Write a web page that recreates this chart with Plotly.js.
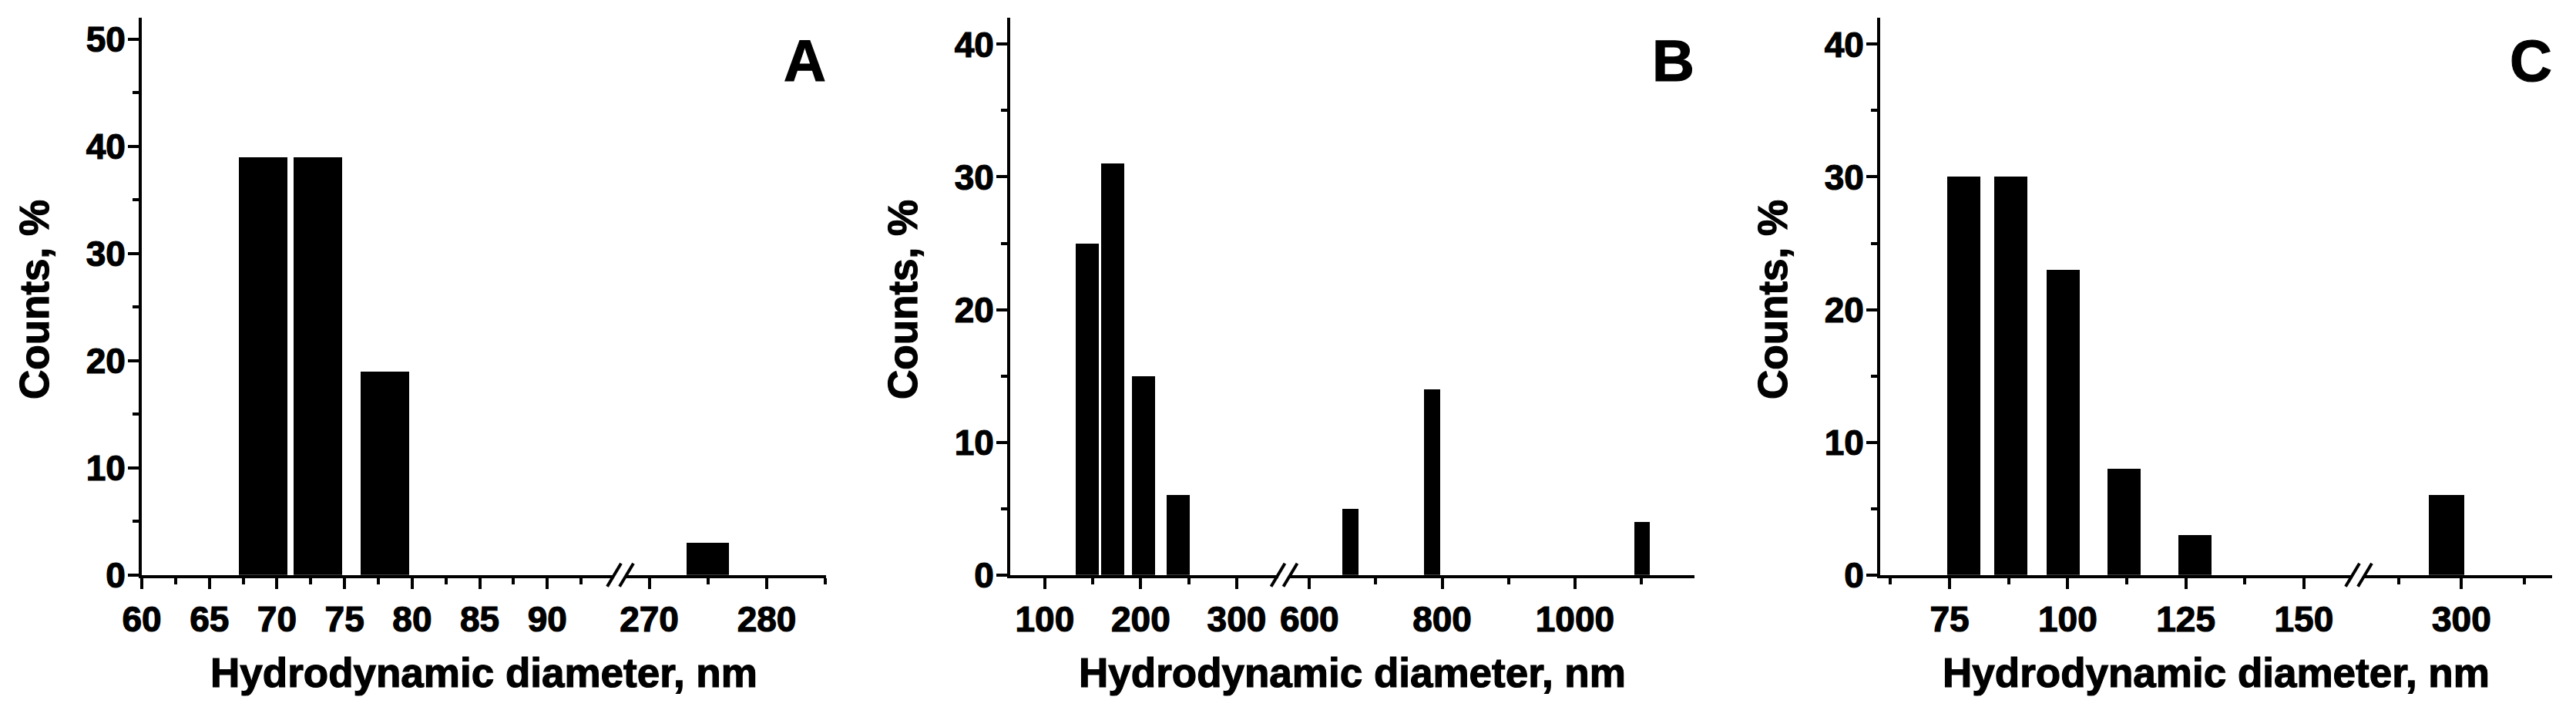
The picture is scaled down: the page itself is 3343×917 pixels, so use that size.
<!DOCTYPE html>
<html>
<head>
<meta charset="utf-8">
<script src="https://cdn.plot.ly/plotly-3.0.1.min.js"></script>
<style>
html,body{margin:0;padding:0;background:#fff}
#chart{width:3343px;height:917px}
#chart text{stroke:#000;stroke-width:1.2px;paint-order:stroke}
</style>
</head>
<body>
<div id="chart"></div>
<script>
// ---- data ----
// Panel A
const sizesA  = [69, 73, 78, 275];
const countsA = [39, 39, 19, 3];
// Panel B
const sizesB  = [144, 171, 203, 239, 662, 785, 1101];
const countsB = [25, 31, 15, 6, 5, 14, 4];
// Panel C
const sizesC  = [78, 88, 99, 112, 127, 297];
const countsC = [30, 30, 23, 8, 3, 6];

const panelLabels = ["A", "B", "C"];
const xTitle = "Hydrodynamic diameter, nm";
const yTitle = "Counts, %";

// ---- layout geometry (pixels) ----
const W = 3343, H = 917;
const px = v => v / W;
const py = v => 1 - v / H;
const yTop = 23, yBot = 745.7;

const FONT = "Liberation Sans, Arial, sans-serif";

const panels = [
  { sizes: sizesA, counts: countsA, breakAt: 150, width: 3.6,
    segs: [ {p:[184, 797],  r:[60, 94.94],   dtick:5,   minor:2.5},
            {p:[813, 1072], r:[268.06, 285.05], dtick:10, minor:5} ],
    yr:[0, 52] },
  { sizes: sizesB, counts: countsB, breakAt: 450, width: 24,
    segs: [ {p:[1311, 1659], r:[64, 343.4],  dtick:100, minor:50},
            {p:[1674, 2199], r:[570.7, 1180], dtick:200, minor:100} ],
    yr:[0, 42] },
  { sizes: sizesC, counts: countsC, breakAt: 200, width: 7,
    segs: [ {p:[2440, 3053], r:[60.3, 160.3], dtick:25, minor:12.5},
            {p:[3069, 3312], r:[280.7, 318.1], dtick:25, minor:12.5} ],
    yr:[0, 42] }
];

const traces = [];
const layout = {
  width: W, height: H,
  margin: {l:0, r:0, t:0, b:0},
  paper_bgcolor: "#fff", plot_bgcolor: "rgba(0,0,0,0)",
  showlegend: false,
  bargap: 0,
  font: {family: FONT, size: 46, color: "#000", weight: 700},
  annotations: [],
  shapes: []
};

let xi = 1;
panels.forEach((P, k) => {
  const yName = k === 0 ? "y" : "y" + (k + 1);
  const yKey  = k === 0 ? "yaxis" : "yaxis" + (k + 1);
  const firstX = xi;
  P.segs.forEach((S, s) => {
    const xName = xi === 1 ? "x" : "x" + xi;
    const xKey  = xi === 1 ? "xaxis" : "xaxis" + xi;
    const xs = [], ys = [];
    P.sizes.forEach((v, i) => {
      const inSeg = s === 0 ? v < P.breakAt : v >= P.breakAt;
      if (inSeg) { xs.push(v); ys.push(P.counts[i]); }
    });
    traces.push({
      type: "bar", x: xs, y: ys, width: P.width,
      xaxis: xName, yaxis: yName,
      marker: {color: "#000", line: {width: 0}},
      hoverinfo: "x+y"
    });
    layout[xKey] = {
      domain: [px(S.p[0]), px(S.p[1])],
      range: S.r, anchor: yName,
      showline: true, linewidth: 4, linecolor: "#000",
      ticks: "outside", ticklen: 14, tickwidth: 4, tickcolor: "#000",
      tickmode: "linear", tick0: 0, dtick: S.dtick,
      minor: {ticks: "outside", ticklen: 8, tickwidth: 4, tickcolor: "#000", dtick: S.minor, tick0: 0, showgrid: false},
      showgrid: false, zeroline: false,
      tickfont: {family: FONT, size: 46, color: "#000", weight: 700},
      ticklabelstandoff: 0,
      fixedrange: true
    };
    xi++;
  });
  const seg0 = P.segs[0], seg1 = P.segs[1];
  layout[yKey] = {
    domain: [py(yBot), py(yTop)],
    range: P.yr, anchor: firstX === 1 ? "x" : "x" + firstX,
    showline: true, linewidth: 4, linecolor: "#000",
    ticks: "outside", ticklen: 14, tickwidth: 4, tickcolor: "#000",
    tickmode: "linear", tick0: 0, dtick: 10,
    minor: {ticks: "outside", ticklen: 8, tickwidth: 4, tickcolor: "#000", dtick: 5, showgrid: false},
    showgrid: false, zeroline: false,
    tickfont: {family: FONT, size: 46, color: "#000", weight: 700},
    ticklabelstandoff: -6,
    fixedrange: true
  };
  // axis break marks "//" centered on the gap
  const gapC = (seg0.p[1] + seg1.p[0]) / 2;
  [-8, 8].forEach(off => {
    layout.shapes.push({
      type: "line", xref: "paper", yref: "paper",
      x0: px(gapC + off - 9), y0: py(yBot + 15),
      x1: px(gapC + off + 9), y1: py(yBot - 15),
      line: {color: "#000", width: 4}
    });
  });
  // x title centered across whole axis
  layout.annotations.push({
    xref: "paper", yref: "paper",
    x: px((seg0.p[0] + seg1.p[1]) / 2), y: py(872),
    xanchor: "center", yanchor: "middle", showarrow: false,
    text: xTitle, font: {family: FONT, size: 53, color: "#000", weight: 700}
  });
  // y title
  layout.annotations.push({
    xref: "paper", yref: "paper",
    x: px(seg0.p[0] - 140), y: py(389),
    xanchor: "center", yanchor: "middle", showarrow: false, textangle: -90,
    text: yTitle, font: {family: FONT, size: 53, color: "#000", weight: 700}
  });
  // panel letter
  layout.annotations.push({
    xref: "paper", yref: "paper",
    x: px(seg1.p[1] + 2), y: py(78),
    xanchor: "right", yanchor: "middle", showarrow: false,
    text: panelLabels[k], font: {family: FONT, size: 76, color: "#000", weight: 700}
  });
});

Plotly.newPlot("chart", traces, layout, {staticPlot: true, displayModeBar: false});
</script>
</body>
</html>
